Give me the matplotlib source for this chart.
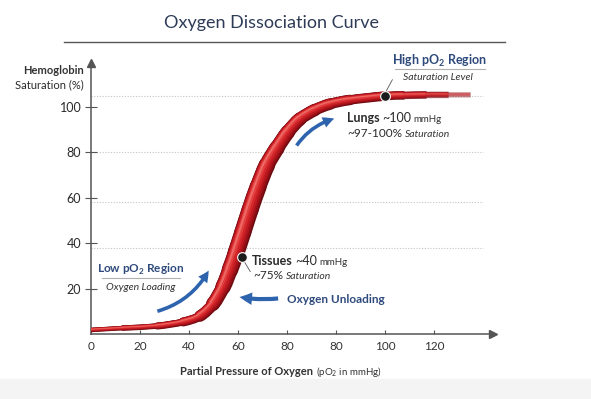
import numpy as np
import matplotlib.pyplot as plt
import matplotlib.colors as mcolors
from matplotlib.patches import FancyArrowPatch, Rectangle, PathPatch
from matplotlib.path import Path
from matplotlib.lines import Line2D

plt.rcParams['font.family'] = ['Lato', 'DejaVu Sans']
plt.rcParams['mathtext.fontset'] = 'custom'
plt.rcParams['mathtext.rm'] = 'Lato'
plt.rcParams['mathtext.bf'] = 'Lato:bold'

# === DATA ===

x_ticks = [0, 20, 40, 60, 80, 100, 120, 140]
x_tick_labels = ["0", "20", "40", "60", "80", "80", "100", "120"]
y_ticks = [20, 40, 60, 80, 100]
grid_levels = [38, 58, 80, 105]

# curve centre line
curve_x = [0.4, 13, 27, 37.6, 44.5, 49.8, 53.9, 56.7, 59.2, 62.0, 64.9, 68.2,
           71.8, 75.9, 80.4, 85.3, 91.4, 97.6, 105.7, 120, 128, 137, 146, 155]
curve_y = [1.8, 2.6, 3.5, 5.3, 7.9, 13.2, 20.7, 28.2, 35.7, 44.9, 54.6, 64.8,
           74.4, 81.9, 89.0, 94.7, 98.7, 101.3, 103.1, 104.8, 105.1, 105.3, 105.3, 105.3]

# marked points: tissues, high pO2
point_x = [61.6, 120]
point_y = [33.9, 104.8]

# arrows (start x, start y, end x, end y)
arrow_low = [26, 9.7, 48.6, 29]
arrow_unload = [77.5, 15.8, 59.5, 16.5]
arrow_lungs = [83.3, 82, 100.4, 95.2]

# === STYLE ===

W, H = 591, 399
PX_X = 2.45   # px per x unit
PX_Y = 2.27   # px per y unit
ribbon_px = [4, 5, 6, 8, 10, 13, 15, 16, 17, 17, 17, 17,
             16, 15, 14, 13, 12, 11, 10, 9, 8, 7, 6, 5]
ribbon_alpha = [1] * 20 + [0.9, 0.65, 0.35, 0.05]

navy = '#2f4a7c'
arrow_blue = '#2d64ad'
ink = '#2a2a2a'

fig = plt.figure(figsize=(W / 100, H / 100), dpi=100)
fig.patch.set_facecolor('white')
fig.patches.append(Rectangle((0, 0), 1, (H - 379) / H, transform=fig.transFigure,
                             color='#f4f4f4', zorder=0))

x0, y0 = 91, 334           # origin in pixels
xmax = (493 - x0) / PX_X
ymax = (y0 - 63) / PX_Y
ax = fig.add_axes([x0 / W, (H - y0) / H, (493 - x0) / W, (y0 - 63) / H])
ax.patch.set_alpha(0)
ax.set_xlim(0, xmax)
ax.set_ylim(0, ymax)

for s in ['top', 'right']:
    ax.spines[s].set_visible(False)
for s in ['left', 'bottom']:
    ax.spines[s].set_color('#555555')
    ax.spines[s].set_linewidth(1.1)
ax.plot(1, 0, '>', ms=6, color='#555555', transform=ax.transAxes, clip_on=False)
ax.plot(0, 1, '^', ms=6, color='#555555', transform=ax.transAxes, clip_on=False)

ax.set_xticks(x_ticks)
ax.set_xticklabels(x_tick_labels)
ax.set_yticks(y_ticks)
ax.tick_params(axis='x', direction='in', length=3, color='#555555', pad=5,
               labelsize=8.5, labelcolor='#333333')
ax.tick_params(axis='y', direction='inout', length=8, color='#555555', pad=3,
               labelsize=9, labelcolor=ink)

ax.hlines(grid_levels, 0, 160, colors='#c4c4c4', linestyles=(0, (1, 1.5)), lw=0.8, zorder=1)

# === RIBBON (tube drawn as stacked strokes, Bezier through the read points) ===
pts = np.column_stack([curve_x, curve_y])
ext = np.vstack([pts[0], pts, pts[-1]])
w = np.array(ribbon_px, dtype=float)
a = np.array(ribbon_alpha, dtype=float)
codes = [Path.MOVETO, Path.CURVE4, Path.CURVE4, Path.CURVE4]

layers = [('#6c0a10', 1.00, 0.00), ('#8c0e15', 0.90, 0.04), ('#a8121a', 0.78, 0.08),
          ('#c01a21', 0.64, 0.12), ('#d3262b', 0.48, 0.16), ('#e2403f', 0.30, 0.20),
          ('#ee6a66', 0.12, 0.24)]
for col, scale, shift in layers:
    for i in range(len(pts) - 1):
        p0, p1, p2, p3 = ext[i], ext[i + 1], ext[i + 2], ext[i + 3]
        c1 = p1 + (p2 - p0) / 6
        c2 = p2 - (p3 - p1) / 6
        sw = (w[i] + w[i + 1]) / 2
        off = np.array([-shift * sw / np.sqrt(2) / PX_X, shift * sw / np.sqrt(2) / PX_Y])
        verts = np.array([p1, c1, c2, p2]) + off
        alpha = (a[i] + a[i + 1]) / 2
        ax.add_patch(PathPatch(Path(verts, codes), fill=False,
                               lw=sw * scale * 0.72, edgecolor=mcolors.to_rgba(col, alpha),
                               capstyle='round' if alpha >= 1 else 'butt',
                               joinstyle='round', zorder=3))

ax.plot(point_x, point_y, 'o', ms=7, mfc='#1c1c1c', mec='white', mew=0.8, zorder=5)

# leader lines
ax.plot([62.5, 65], [32, 27.5], color='#555555', lw=0.6, zorder=4)
ax.plot([120.5, 123], [107, 112], color='#555555', lw=0.6, zorder=4)

# === ARROWS ===
def arrow(c, rad, hw=8, hl=8, tw=2.6):
    p = FancyArrowPatch((c[0], c[1]), (c[2], c[3]),
                        connectionstyle=f"arc3,rad={rad}",
                        arrowstyle=f"simple,head_width={hw},head_length={hl},tail_width={tw}",
                        color=arrow_blue, mutation_scale=1, lw=0, zorder=4)
    ax.add_patch(p)

arrow(arrow_low, 0.22)
arrow(arrow_unload, -0.08, hw=9, hl=9, tw=3)
arrow(arrow_lungs, -0.2)

# === TEXT ===
def P(x, y):
    return x / W, 1 - y / H


def chain(prev, s, y, coords='data', gap=2, **kw):
    return ax.annotate(s, xy=(1, y), xycoords=(prev, coords), xytext=(gap, 0),
                       textcoords='offset points', ha='left', va='baseline', **kw)


fig.text(*P(271, 23), "Oxygen Dissociation Curve", ha='center', va='center',
         fontsize=13, color='#2e3b57')
fig.add_artist(Line2D([64 / W, 505 / W], [1 - 42 / H] * 2, color='#555555', lw=1))

fig.text(*P(84, 71), "Hemoglobin", ha='right', va='center', fontsize=8,
         fontweight='bold', color='#333333')
fig.text(*P(84, 85), "Saturation (%)", ha='right', va='center', fontsize=8,
         color=ink)

# x label
xl = fig.text(*P(313, 375), "Partial Pressure of Oxygen", ha='right', va='baseline',
              fontsize=8, fontweight='bold', color='#333333')
ax.annotate(r"(pO$_2$ in mmHg)", xy=(1, 1 - 375 / H), xycoords=(xl, 'figure fraction'),
            xytext=(2.5, 0), textcoords='offset points', ha='left', va='baseline',
            fontsize=7, color='#333333')

# high region
ax.text(142.4, 120.5, r"High pO$_\mathbf{2}$ Region", ha='center', va='center', fontsize=9,
        fontweight='bold', color=navy)
ax.plot([124, 161], [116.6, 116.6], color='#b0b0b0', lw=0.8, clip_on=False)
ax.text(141.6, 112.8, "Saturation Level", ha='center', va='center', fontsize=7.5,
        style='italic', color='#333333')

# lungs
t = ax.text(104.5, 93.2, "Lungs", ha='left', va='baseline', fontsize=9,
            fontweight='bold', color=ink)
t = chain(t, "~100", 93.2, fontsize=9, color=ink)
chain(t, "mmHg", 93.2, gap=1.5, fontsize=7, color='#333333')
t = ax.text(104.5, 86.6, "~97-100%", ha='left', va='baseline', fontsize=8.5, color=ink)
chain(t, "Saturation", 86.6, fontsize=7.5, style='italic', color='#333333')

# tissues
t = ax.text(65.7, 30.4, "Tissues", ha='left', va='baseline', fontsize=9,
            fontweight='bold', color=ink)
t = chain(t, "~40", 30.4, fontsize=9, color=ink)
chain(t, "mmHg", 30.4, gap=1.5, fontsize=7, color='#333333')
t = ax.text(66.1, 24.2, "~75%", ha='left', va='baseline', fontsize=8.5, color=ink)
chain(t, "Saturation", 24.2, fontsize=7.5, style='italic', color='#333333')

# low region
ax.text(20.4, 28.4, r"Low pO$_\mathbf{2}$ Region", ha='center', va='center', fontsize=8.5,
        fontweight='bold', color=navy)
ax.plot([4.5, 36.3], [24.6, 24.6], color='#b0b0b0', lw=0.8)
ax.text(20.4, 20.6, "Oxygen Loading", ha='center', va='center', fontsize=7.5,
        style='italic', color='#333333')

ax.text(80, 15, "Oxygen Unloading", ha='left', va='center', fontsize=8.5,
        fontweight='bold', color=navy)

plt.savefig("out.png", dpi=100)
